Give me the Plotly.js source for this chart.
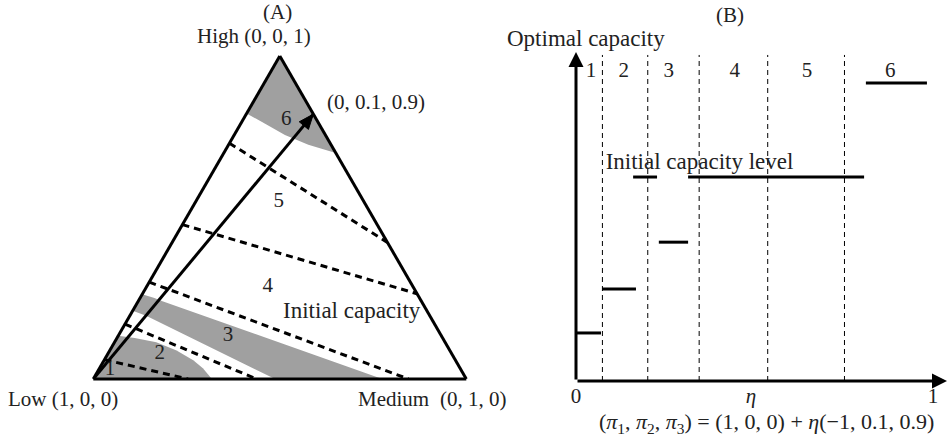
<!DOCTYPE html>
<html>
<head>
<meta charset="utf-8">
<script src="https://cdn.plot.ly/plotly-3.0.1.min.js"></script>
<style>html,body{margin:0;padding:0;background:#fff;}#chart{width:947px;height:445px;}</style>
</head>
<body>
<div id="chart"></div>
<script>
// ---------- Panel (A): simplex of beliefs (pi1 = Low, pi2 = Medium, pi3 = High) ----------
// dashed boundaries between optimal-capacity regions: [start, end]
const dashPi1 = [[0.94, 0.746], [0.83, 0.562], [0.70, 0.155], [0.522, 0.0], [0.27, 0.0]];
const dashPi2 = [[0.0, 0.254], [0.0, 0.438], [0.0, 0.845], [0.0, 0.736], [0.0, 0.577]];
const dashPi3 = [[0.06, 0.0], [0.17, 0.0], [0.30, 0.0], [0.478, 0.264], [0.73, 0.423]];

// shaded region around corner Low (regions 1-2)
const shadeLowPi1 = [1.0, 0.866, 0.8255, 0.774, 0.7324, 0.703, 0.6894, 0.682, 1.0];
const shadeLowPi2 = [0.0, 0.0, 0.0475, 0.112, 0.179, 0.239, 0.277, 0.318, 0.0];
const shadeLowPi3 = [0.0, 0.134, 0.127, 0.114, 0.0886, 0.058, 0.0336, 0.0, 0.0];

// shaded band (region 3)
const shadeBandPi1 = [0.789, 0.7605, 0.5125, 0.225, 0.694, 0.711, 0.738, 0.789];
const shadeBandPi2 = [0.0, 0.044, 0.4875, 0.775, 0.065, 0.0386, 0.0, 0.0];
const shadeBandPi3 = [0.211, 0.1955, 0.0, 0.0, 0.241, 0.2505, 0.262, 0.211];

// shaded cap near High (region 6)
const shadeHighPi1 = [0.178, 0.145, 0.1084, 0.061, 0.0, 0.0, 0.178];
const shadeHighPi2 = [0.0, 0.064, 0.136, 0.214, 0.30, 0.0, 0.0];
const shadeHighPi3 = [0.822, 0.791, 0.7556, 0.725, 0.70, 1.0, 0.822];

// path of beliefs (arrow) from Low towards (0, 0.1, 0.9)
const pathPi1 = [1.0, 0.0];
const pathPi2 = [0.0, 0.18];
const pathPi3 = [0.0, 0.82];

// region labels inside the simplex
const simplexLabels = ['1', '2', '3', '4', '5', '6'];
const simplexLabelPi1 = [0.9415, 0.7825, 0.5716, 0.389, 0.228, 0.082];
const simplexLabelPi2 = [0.031, 0.139, 0.294, 0.324, 0.222, 0.1167];
const simplexLabelPi3 = [0.0275, 0.0785, 0.1344, 0.287, 0.55, 0.8014];
const initLabelPi = [0.2044, 0.59, 0.2056];

// ---------- Panel (B): optimal capacity along eta ----------
const etaBoundaries = [0.074, 0.201, 0.345, 0.537, 0.752];
const regionLabels = ['1', '2', '3', '4', '5', '6'];
const regionLabelEta = [0.042, 0.134, 0.26, 0.445, 0.647, 0.88];
const optStart = [0.0, 0.073, 0.232, 0.812];
const optEnd = [0.07, 0.168, 0.314, 0.983];
const optLevel = [0.146, 0.28, 0.422, 0.906];
const initStart = [0.16, 0.314];
const initEnd = [0.227, 0.807];
const initLevel = 0.62;
const xTickVals = [0, 0.49, 1];
const xTickText = ['0', '<i>η</i>', '1'];

// ---------- drawing ----------
const W = 947, H = 445;
const FONT = 'Liberation Serif, Times New Roman, serif';
const FS = 21, FSW = 23;
const traces = [];

function shade(p1, p2, p3) {
  traces.push({type: 'scatterternary', mode: 'lines', a: p3, b: p1, c: p2,
    fill: 'toself', fillcolor: '#a0a0a0', line: {width: 0, color: '#a0a0a0'},
    hoverinfo: 'skip'});
}
shade(shadeLowPi1, shadeLowPi2, shadeLowPi3);
shade(shadeBandPi1, shadeBandPi2, shadeBandPi3);
shade(shadeHighPi1, shadeHighPi2, shadeHighPi3);

for (let i = 0; i < dashPi1.length; i++) {
  traces.push({type: 'scatterternary', mode: 'lines', a: dashPi3[i], b: dashPi1[i], c: dashPi2[i],
    line: {color: 'black', width: 3, dash: '7px,5px'}, hoverinfo: 'skip'});
}

// arrow shaft
traces.push({type: 'scatterternary', mode: 'lines', a: pathPi3, b: pathPi1, c: pathPi2,
  line: {color: 'black', width: 3}, hoverinfo: 'skip'});

// arrow head: small filled triangle at the end of the path, built in simplex coordinates
(function () {
  const HEAD_LEN = 0.04, HEAD_HALF = 0.016; // in units of the triangle side
  const S3 = Math.sqrt(3) / 2;
  function toXY(b, c, a) { return [c + a / 2, a * S3]; }
  function fromXY(x, y) { const a = y / S3; const c = x - a / 2; return [1 - a - c, c, a]; } // [b, c, a]
  const s = toXY(pathPi1[0], pathPi2[0], pathPi3[0]);
  const p = toXY(pathPi1[1], pathPi2[1], pathPi3[1]);
  const dx = p[0] - s[0], dy = p[1] - s[1], L = Math.hypot(dx, dy);
  const ux = dx / L, uy = dy / L, nx = -uy, ny = ux;
  const qx = p[0] - HEAD_LEN * ux, qy = p[1] - HEAD_LEN * uy;
  const pts = [p, [qx + HEAD_HALF * nx, qy + HEAD_HALF * ny], [qx - HEAD_HALF * nx, qy - HEAD_HALF * ny], p]
    .map(function (q) { return fromXY(q[0], q[1]); });
  traces.push({type: 'scatterternary', mode: 'lines', fill: 'toself', fillcolor: 'black',
    b: pts.map(function (q) { return q[0]; }), c: pts.map(function (q) { return q[1]; }),
    a: pts.map(function (q) { return q[2]; }), line: {color: 'black', width: 1}, hoverinfo: 'skip'});
})();

traces.push({type: 'scatterternary', mode: 'text', a: simplexLabelPi3, b: simplexLabelPi1, c: simplexLabelPi2,
  text: simplexLabels, textposition: 'middle center',
  textfont: {family: FONT, size: FS, color: '#222'}, hoverinfo: 'skip'});
traces.push({type: 'scatterternary', mode: 'text', a: [initLabelPi[2]], b: [initLabelPi[0]], c: [initLabelPi[1]],
  text: ['Initial capacity'], textposition: 'middle center',
  textfont: {family: FONT, size: FSW, color: '#222'}, hoverinfo: 'skip'});

// panel B
etaBoundaries.forEach(function (b) {
  traces.push({type: 'scatter', mode: 'lines', x: [b, b], y: [0, 0.991], xaxis: 'x', yaxis: 'y',
    line: {color: 'black', width: 1, dash: '5px,4px'}, hoverinfo: 'skip'});
});
for (let i = 0; i < optStart.length; i++) {
  traces.push({type: 'scatter', mode: 'lines', x: [optStart[i], optEnd[i]], y: [optLevel[i], optLevel[i]],
    line: {color: 'black', width: 3}, hoverinfo: 'skip'});
}
for (let i = 0; i < initStart.length; i++) {
  traces.push({type: 'scatter', mode: 'lines', x: [initStart[i], initEnd[i]], y: [initLevel, initLevel],
    line: {color: 'black', width: 3}, hoverinfo: 'skip'});
}
traces.push({type: 'scatter', mode: 'text', x: regionLabelEta, y: regionLabelEta.map(function(){return 0.939;}),
  text: regionLabels, textposition: 'middle center', textfont: {family: FONT, size: FS, color: '#222'},
  hoverinfo: 'skip'});
traces.push({type: 'scatter', mode: 'text', x: [0.346], y: [0.663], text: ['Initial capacity level'],
  textposition: 'middle center', textfont: {family: FONT, size: FSW, color: '#222'}, hoverinfo: 'skip'});

function px(x, y, text, size) {
  return {xref: 'paper', yref: 'paper', x: x / W, y: 1 - y / H, text: text,
    showarrow: false, xanchor: 'center', yanchor: 'middle',
    font: {family: FONT, size: size || FS, color: '#222'}};
}

const annotations = [
  px(277, 12, '(A)'),
  px(254, 36, 'High (0, 0, 1)'),
  px(376, 102, '(0, 0.1, 0.9)'),
  px(63, 399, 'Low (1, 0, 0)'),
  px(393, 399, 'Medium'),
  px(474, 399, '(0, 1, 0)'),
  px(730, 15, '(B)'),
  px(586, 38, 'Optimal capacity', FSW),
  px(766, 423, '(<i>π</i><sub>1</sub>, <i>π</i><sub>2</sub>, <i>π</i><sub>3</sub>) = (1, 0, 0) + <i>η</i>(−1, 0.1, 0.9)', 22),
  // axes arrows of panel B
  {xref: 'x', yref: 'y', axref: 'x', ayref: 'y', x: 1.0392, y: 0, ax: 0, ay: 0, text: '',
    showarrow: true, arrowhead: 2, arrowwidth: 3, arrowsize: 1, arrowcolor: 'black'},
  {xref: 'x', yref: 'y', axref: 'x', ayref: 'y', x: 0, y: 1, ax: 0, ay: 0, text: '',
    showarrow: true, arrowhead: 2, arrowwidth: 3, arrowsize: 1, arrowcolor: 'black'}
];

const ternAxis = {showline: true, linewidth: 3, linecolor: 'black', showgrid: false,
  showticklabels: false, ticks: '', title: {text: ''}};

const layout = {
  width: W, height: H,
  margin: {l: 0, r: 0, t: 0, b: 0},
  paper_bgcolor: 'white', plot_bgcolor: 'rgba(0,0,0,0)',
  showlegend: false,
  hovermode: false,
  font: {family: FONT, size: FS, color: '#222'},
  ternary: {
    domain: {x: [93.3 / W, 466.3 / W], y: [0.14607, 0.87641]},
    sum: 1, bgcolor: 'white',
    aaxis: ternAxis, baxis: ternAxis, caxis: ternAxis
  },
  xaxis: {domain: [576 / W, 1], range: [0, 1.0392], showgrid: false, zeroline: false, showline: false,
    tickvals: xTickVals, ticktext: xTickText, ticks: '', tickfont: {family: FONT, size: FS, color: '#222'},
    fixedrange: true},
  yaxis: {domain: [(H - 381) / H, (H - 52) / H], range: [0, 1], showgrid: false, zeroline: false,
    showline: false, showticklabels: false, ticks: '', fixedrange: true},
  annotations: annotations
};

Plotly.newPlot('chart', traces, layout, {staticPlot: true, displayModeBar: false});
</script>
</body>
</html>
